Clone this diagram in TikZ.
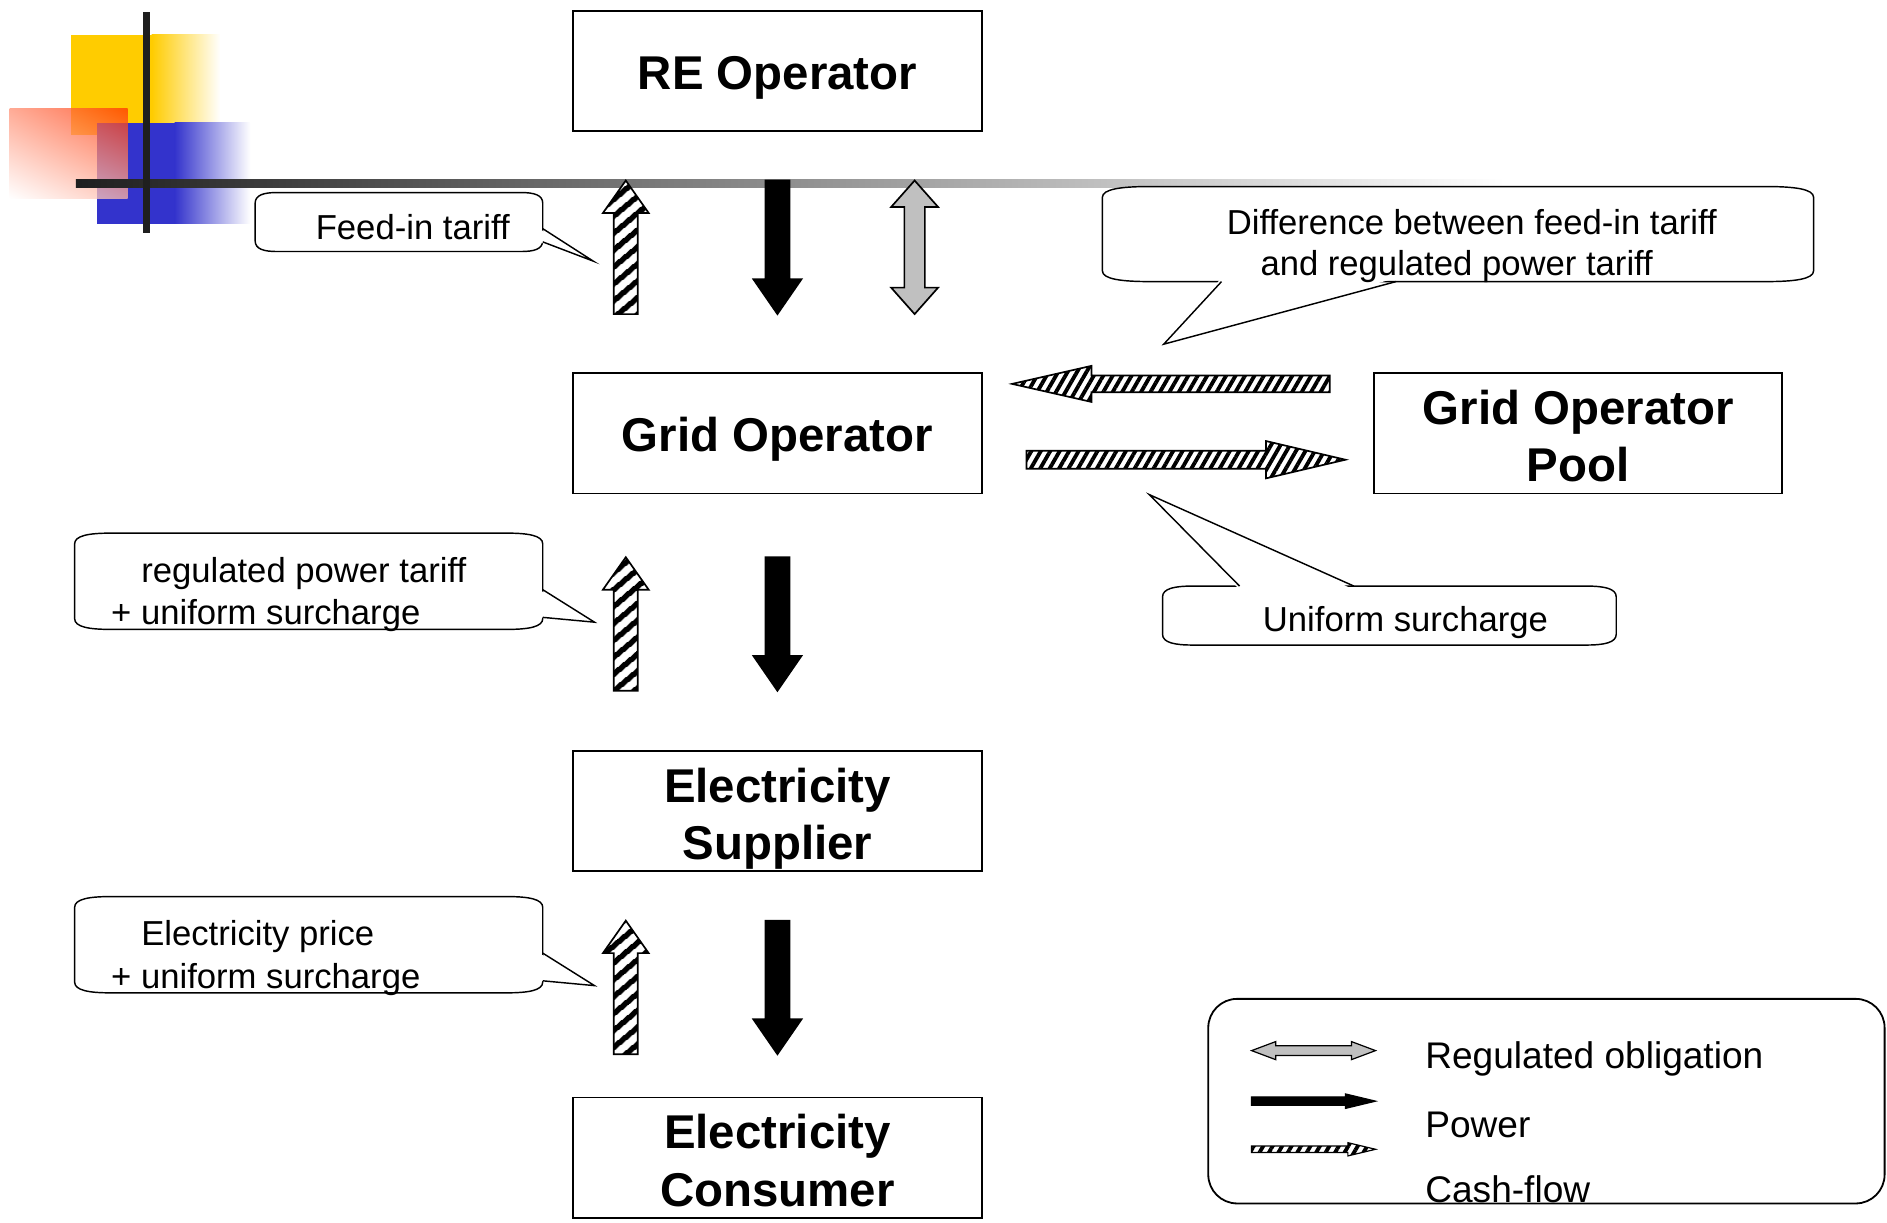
\documentclass[tikz,border=0pt]{standalone}
\usepackage{fontspec}
\setmainfont{Liberation Sans}
\usetikzlibrary{patterns.meta,shadings}

\definecolor{logoyellow}{HTML}{FFCC00}
\definecolor{logoblue}{HTML}{3333CC}
\definecolor{logored}{HTML}{FF3300}
\definecolor{obliggray}{HTML}{C0C0C0}

\tikzset{
  box/.style={draw, line width=0.75pt, minimum width=170pt, minimum height=50pt, inner sep=0pt, align=center, text height=15.5pt, text depth=0pt, font=\fontsize{19.7}{24}\selectfont\bfseries},
  twoline/.style={text height=40.5pt, text depth=0pt},
  lbl/.style={inner sep=0pt, anchor=base west, font=\fontsize{14.4}{17}\selectfont},
  legtext/.style={inner sep=0pt, anchor=base west, font=\fontsize{15.4}{18}\selectfont},
  speech/.style={draw, fill=white, line width=0.6pt},
  tail/.style={line width=0.6pt, line join=miter},
  power/.style={draw, fill=black, line width=0.7pt},
  oblig/.style={draw, fill=obliggray, line width=0.7pt},
  cashv/.style={draw, line width=0.7pt, preaction={fill=white}, pattern={Lines[angle=40,distance=5.4pt,line width=2.4pt]}},
  cashh/.style={draw, line width=0.7pt, preaction={fill=white}, pattern={Lines[angle=60,distance=3.4pt,line width=1.6pt]}},
}

% speech bubble body: x0, y0, x1, y1, corner run
\newcommand{\speechbox}[5]{%
  \draw[speech] (#1,#2+9) .. controls (#1,#2+2) and (#1+#5*0.4,#2) .. (#1+#5,#2) -- (#3-#5,#2)
    .. controls (#3-#5*0.4,#2) and (#3,#2+2) .. (#3,#2+9) -- (#3,#4-9)
    .. controls (#3,#4-2) and (#3-#5*0.4,#4) .. (#3-#5,#4) -- (#1+#5,#4)
    .. controls (#1+#5*0.4,#4) and (#1,#4-2) .. (#1,#4-9) -- cycle;}

\begin{document}
\begin{tikzpicture}[x=0.5pt, y=-0.5pt]
    \useasboundingbox (0,0) rectangle (1568,1016);

    % logo
    \fill[logoyellow] (59,29) rectangle (126,112);
    \shade[left color=logoyellow, right color=white] (126,29) rectangle (183,112);
    \fill[logoblue] (81,102) rectangle (145,186);
    \shade[left color=logoblue, right color=white] (145,102) rectangle (208,186);
    \shade[fill opacity=0.75, upper right=logored, upper left=logored!55, lower right=logored!35, lower left=white] (8,90) rectangle (106,165);
    \shade[left color=black!88, right color=white] (63,149) rectangle (1250,155.5);
    \fill[black!88] (119,10) rectangle (125,194);

    % actors
    \node[box] (re) at (646,59) {RE Operator};
    \node[box] (grid) at (646,360) {Grid Operator};
    \node[box, twoline, minimum width=169.5pt] (pool) at (1311.5,360) {Grid Operator\\Pool};
    \node[box, twoline] (supplier) at (646,674) {Electricity\\Supplier};
    \node[box, twoline] (consumer) at (646,962) {Electricity\\Consumer};

    % money up, power down
    \foreach \y in {150,463,765} {
        \draw[cashv] (510,\y+111) -- (510,\y+27) -- (501,\y+27) -- (520,\y) -- (539,\y+27) -- (530,\y+27) -- (530,\y+111) -- cycle;
        \draw[power] (636,\y) -- (636,\y+82) -- (626,\y+82) -- (646,\y+111) -- (666,\y+82) -- (656,\y+82) -- (656,\y) -- cycle;
    }
    \draw[oblig] (760,150) -- (779.5,172) -- (768.5,172) -- (768.5,239) -- (779.5,239) -- (760,261) -- (740.5,239) -- (751.5,239) -- (751.5,172) -- (740.5,172) -- cycle;

    % pool exchange
    \draw[cashh] (1105,312) -- (907,312) -- (907,304) -- (841,319) -- (907,334) -- (907,326) -- (1105,326) -- cycle;
    \draw[cashh] (853,374.5) -- (1052,374.5) -- (1052,366.5) -- (1118,382) -- (1052,397.5) -- (1052,389.5) -- (853,389.5) -- cycle;

    % callouts
    \speechbox{212}{160}{451}{209}{18}
    \fill[white] (448,190) -- (493,217) -- (448,201) -- cycle;
    \draw[tail] (451,190) -- (493,217) -- (451,201);
    \node[lbl] (feedin) at (262,199) {Feed-in tariff};

    \speechbox{916}{155}{1507}{234}{40}
    \fill[white] (1015,231) -- (967,286) -- (1160,231) -- cycle;
    \draw[tail] (1015,234) -- (967,286) -- (1160,234);
    \node[lbl] (diffa) at (1019,195) {Difference between feed-in tariff};
    \node[lbl] (diffb) at (1047,229) {and regulated power tariff};

    \speechbox{966}{487}{1343}{536}{25}
    \fill[white] (1030,490) -- (955,411) -- (1125,490) -- cycle;
    \draw[tail] (1030,487) -- (955,411) -- (1125,487);
    \node[lbl] (uniform) at (1049,525) {Uniform surcharge};

    \speechbox{62}{443}{451}{523}{30}
    \fill[white] (448,490) -- (494,517) -- (448,513) -- cycle;
    \draw[tail] (451,490) -- (494,517) -- (451,513);
    \node[lbl] (regtariff) at (117,484) {regulated power tariff};
    \node[lbl] (regsurch) at (92,519) {+ uniform surcharge};

    \speechbox{62}{745}{451}{825}{30}
    \fill[white] (448,792) -- (494,819) -- (448,815) -- cycle;
    \draw[tail] (451,792) -- (494,819) -- (451,815);
    \node[lbl] (price) at (117,786) {Electricity price};
    \node[lbl] (pricesurch) at (92,821) {+ uniform surcharge};

    % legend
    \draw[line width=0.75pt, rounded corners=12pt] (1004,830) rectangle (1566,1000);
    \draw[oblig, line width=0.5pt] (1040,873) -- (1060,865.5) -- (1060,869) -- (1123,869) -- (1123,865.5) -- (1143,873) -- (1123,880.5) -- (1123,877) -- (1060,877) -- (1060,880.5) -- cycle;
    \draw[power, line width=0.5pt] (1040,911.5) -- (1118,911.5) -- (1118,909) -- (1143,915) -- (1118,921) -- (1118,918.5) -- (1040,918.5) -- cycle;
    \draw[cashh, line width=0.5pt] (1040,952.3) -- (1120,952.3) -- (1120,949.5) -- (1143,955) -- (1120,960.5) -- (1120,957.7) -- (1040,957.7) -- cycle;
    \node[legtext] (lgoblig) at (1184,888) {Regulated obligation};
    \node[legtext] (lgpower) at (1184,945) {Power};
    \node[legtext] (lgcash) at (1184,999) {Cash-flow};
\end{tikzpicture}
\end{document}
